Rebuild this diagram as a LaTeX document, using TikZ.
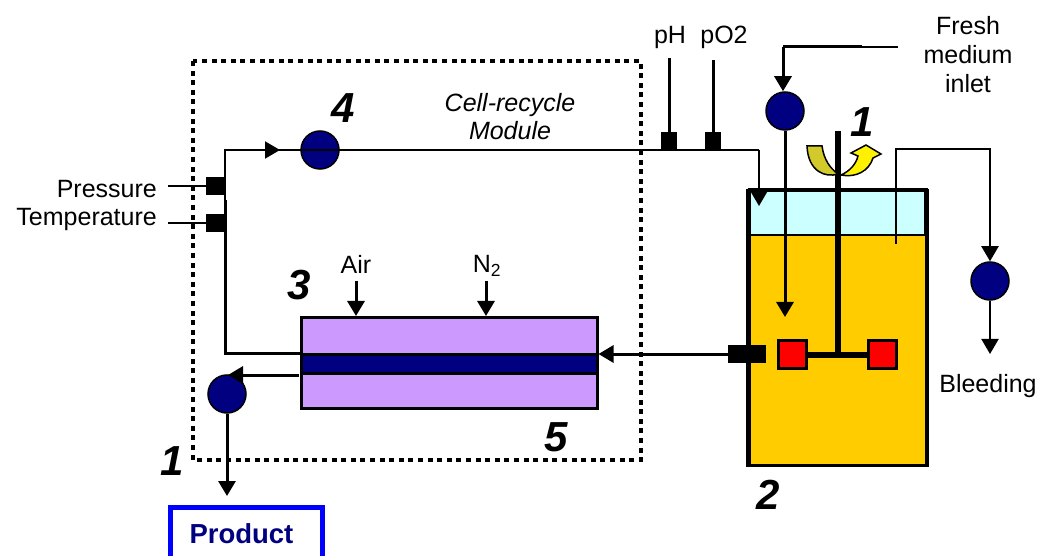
\documentclass[tikz,border=0pt]{standalone}
\usepackage{fontspec}
\setmainfont{Liberation Sans}
\usetikzlibrary{arrows.meta}
\definecolor{navypump}{HTML}{000080}
\definecolor{brothcol}{HTML}{FFCC00}
\definecolor{headcol}{HTML}{CCFFFF}
\definecolor{modulecol}{HTML}{CC99FF}

\begin{document}
\begin{tikzpicture}[x=1pt, y=-1pt,
	pump/.style={circle, draw=black, line width=1.5pt, fill=navypump, minimum size=38pt, inner sep=0pt},
	sensor/.style={rectangle, fill=black, minimum width=#1, minimum height=18pt, inner sep=0pt},
	sensor/.default=18pt,
	blade/.style={rectangle, draw=black, line width=3pt, fill=red, minimum size=28pt, inner sep=0pt},
	label/.style={inner sep=0pt, font=\fontsize{25}{29}\selectfont},
	num/.style={inner sep=0pt, font=\fontsize{42}{44}\selectfont\bfseries\itshape},
	pipe/.style={line width=2pt},
	flow/.style={line width=3pt, -{Triangle[length=15pt, width=17pt]}},
	thinflow/.style={line width=2pt, -{Triangle[length=15pt, width=17pt]}}]
	\clip (0,0) rectangle (1037,556);

	% fermenter
	\node[draw, line width=3pt, fill=brothcol, minimum width=177pt, minimum height=274pt, inner sep=0pt] (tank) at (837.5,328) {};
	\node[draw, line width=1.5pt, fill=headcol, minimum width=175pt, minimum height=44pt, inner sep=0pt] (head) at (837.5,213) {};
	\draw[line width=3pt] (tank.north west) -- (tank.north east);
	\draw[line width=3pt] (tank.north west) -- (tank.south west);
	\draw[line width=3pt] (tank.north east) -- (tank.south east);

	% membrane module
	\node[draw, line width=3pt, fill=modulecol, minimum width=296pt, minimum height=91pt, inner sep=0pt] (module) at (449,363) {};
	\node[draw, line width=3pt, fill=navypump, minimum width=296pt, minimum height=19pt, inner sep=0pt] (band) at (449,364) {};

	% cell-recycle border
	\draw[line width=4.5pt, dash pattern=on 5pt off 4.6pt] (193,61) rectangle (641,460);

	\node[pump] (pumpfour) at (320,150) {};
	\node[pump] (pumpfeed) at (785,111) {};
	\node[pump] (pumpbleed) at (990,281) {};
	\node[pump] (pumpprod) at (227,394) {};

	\coordinate (loopside) at (225,200);
	\coordinate (looptl) at (225,150);
	\coordinate (looptip) at (280,150);
	\coordinate (loopin) at (759,150);
	\coordinate (looptk) at (759,206);
	\draw[line width=3pt] (band.north west) -| (loopside);
	\draw[pipe] (loopside) -- (looptl) -- (pumpfour.west);
	\draw[thinflow] (looptl) -- (looptip);
	\draw[pipe] (pumpfour.west) -- (pumpfour.east) -- (loopin);
	\draw[thinflow] (loopin) -- (looptk);

	% sensors
	\node[sensor] (press) at (215,186) {};
	\node[sensor] (temp) at (215,223) {};
	\node[sensor=16pt] (phsens) at (669,141) {};
	\node[sensor=16pt] (posens) at (713,141) {};
	\coordinate (pressend) at (168,186);
	\coordinate (tempend) at (168,223);
	\coordinate (phend) at (669,58);
	\coordinate (poend) at (713,60);
	\draw[pipe] (pressend) -- (press);
	\draw[pipe] (tempend) -- (temp);
	\draw[line width=3pt] (phend) -- (phsens);
	\draw[line width=3pt] (poend) -- (posens);

	% stirrer
	\node[blade] (bladel) at (792.5,354.5) {};
	\node[blade] (blader) at (882.5,354.5) {};
	\coordinate (shafttop) at (838,131);
	\draw[line width=6pt] (bladel) -- (blader);
	\draw[line width=6.5pt] (shafttop) -- (shafttop |- bladel);
	\draw[line width=1.5pt, fill=yellow!80!black] (807,146) -- (822,146) .. controls (824,160) and (830,168) .. (838,174) .. controls (826,178) and (808,172) .. (807,146) -- cycle;
	\draw[line width=1.5pt, fill=yellow] (841,175) .. controls (850,171) and (856,164) .. (858,156) -- (851,153) -- (866,145) -- (881,154) -- (873,158) .. controls (869,171) and (856,178) .. (841,175) -- cycle;

	% feed and bleed
	\coordinate (feedend) at (898,47);
	\coordinate (feedmid) at (862,47);
	\coordinate (feedcorner) at (783,47);
	\coordinate (feedtip) at (785,317);
	\draw[pipe] (feedend) -- (feedmid);
	\draw[line width=3pt] (feedmid) -- (feedcorner);
	\draw[flow] (feedcorner) -- (feedcorner |- pumpfeed.north);
	\draw[flow] (pumpfeed.south) -- (feedtip);
	\coordinate (bleedin) at (896,244);
	\coordinate (bleedtop) at (896,149);
	\coordinate (bleedtip) at (990,354);
	\draw[thinflow] (bleedin) -- (bleedtop) -- (bleedtop -| pumpbleed) -- (pumpbleed.north);
	\draw[thinflow] (pumpbleed.south) -- (bleedtip);

	% outflow
	\node[sensor=38pt] (probe) at (747,354) {};
	\draw[flow] (probe.west) -- (probe.west -| module.east);
	\coordinate (airin) at (356,281);
	\coordinate (ntwoin) at (486,281);
	\draw[flow] (airin) -- (airin |- module.north);
	\draw[flow] (ntwoin) -- (ntwoin |- module.north);
	\coordinate (prodstart) at (299,375);
	\coordinate (prodtip) at (228,375);
	\coordinate (prodend) at (227,496);
	\draw[flow] (prodstart) -- (prodtip);
	\draw[flow] (pumpprod.south) -- (prodend);
	\node[draw=blue, line width=5pt, text=navypump, inner xsep=19pt, text width=114pt, align=left, minimum height=54pt, inner ysep=0pt, font=\fontsize{27.5}{30}\selectfont\bfseries] (product) at (246.5,534) {Product};

	% labels
	\node[label, anchor=base east] (pressure) at (157,198) {Pressure};
	\node[label, anchor=base east] (temperature) at (157,226) {Temperature};
	\node[label] (phlabel) at (670,37) {pH};
	\node[label] (polabel) at (724,37) {pO2};
	\node[label, align=center] (fresh) at (968,55) {Fresh\\medium\\inlet};
	\node[label, font=\fontsize{25}{28}\selectfont\itshape, align=center] (cellrecycle) at (510,117) {Cell-recycle\\Module};
	\node[label] (air) at (356,264) {Air};
	\node[label] (ntwo) at (487,266) {N\textsubscript{2}};
	\node[label] (bleeding) at (988,386) {Bleeding};
	\node[num] (numfour) at (343,108) {4};
	\node[num] (numstir) at (862,122) {1};
	\node[num] (numthree) at (299,285) {3};
	\node[num] (numfive) at (556,437) {5};
	\node[num] (numprod) at (172,461) {1};
	\node[num] (numtank) at (768,495) {2};
\end{tikzpicture}
\end{document}
